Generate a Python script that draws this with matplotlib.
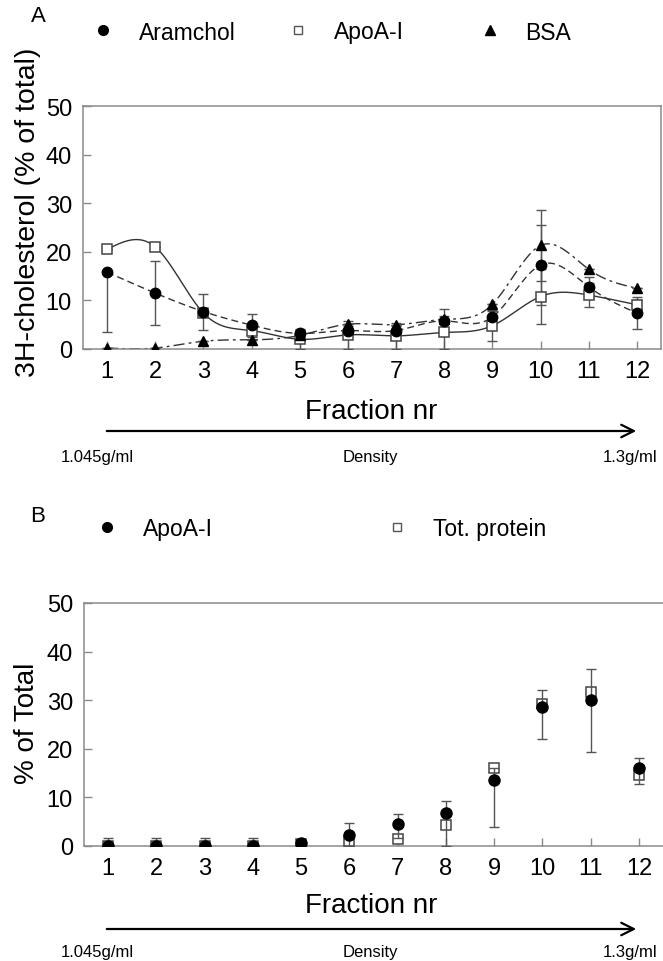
import numpy as np
import matplotlib
matplotlib.use("Agg")
import matplotlib.pyplot as plt
from matplotlib.lines import Line2D
from matplotlib.patches import FancyArrowPatch

plt.rcParams['font.family'] = ['Liberation Sans', 'DejaVu Sans']

# ---------------- data ----------------
fractions = [1, 2, 3, 4, 5, 6, 7, 8, 9, 10, 11, 12]
y_ticks = [0, 10, 20, 30, 40, 50]

# Panel A: 3H-cholesterol (% of total)
aramchol = [15.8, 11.5, 7.7, 4.9, 3.2, 3.8, 3.8, 5.8, 6.6, 17.3, 12.8, 7.4]
aramchol_err_lo = [12.3, 6.6, 3.7, 2.4, 1.0, 1.0, 1.0, 2.5, 1.5, 8.3, 2.0, 3.2]
aramchol_err_hi = [0.0, 6.6, 3.7, 2.4, 1.0, 1.0, 1.0, 2.5, 1.5, 8.3, 2.0, 3.2]
apoa_a = [20.5, 21.0, 7.4, 3.8, 2.0, 2.9, 2.7, 3.4, 4.8, 10.8, 11.1, 9.1]
apoa_a_err = [0.0, 0.0, 0.0, 0.0, 2.0, 2.9, 2.7, 3.4, 3.1, 5.7, 2.4, 1.0]
bsa = [0.2, 0.2, 1.6, 1.9, 2.8, 5.1, 5.0, 6.1, 9.2, 21.3, 16.4, 12.5]
bsa_err = [0.0, 0.0, 0.0, 0.0, 0.0, 0.0, 0.0, 0.0, 0.0, 7.4, 0.0, 0.0]

# Panel B: % of total
apoa_b = [0.1, 0.1, 0.1, 0.1, 0.7, 2.2, 4.6, 6.7, 13.6, 28.7, 30.0, 16.0]
apoa_b_err_lo = [0.0, 0.0, 0.0, 0.0, 0.0, 2.2, 3.0, 6.6, 9.7, 6.6, 10.6, 3.3]
apoa_b_err_hi = [1.5, 1.5, 1.5, 1.5, 0.0, 2.5, 1.9, 2.6, 2.4, 3.5, 6.5, 2.1]
tot_protein = [0.1, 0.1, 0.1, 0.1, 0.5, 1.0, 1.5, 4.4, 16.0, 29.3, 31.6, 14.6]

W, H = 663, 962


def fx(px):
    return px / W


def fy(py):
    return 1 - py / H


def natural_spline(x, y, xs):
    """Natural cubic spline through (x, y), evaluated at xs."""
    x = np.asarray(x, float)
    y = np.asarray(y, float)
    n = len(x)
    h = np.diff(x)
    A = np.zeros((n, n))
    r = np.zeros(n)
    A[0, 0] = A[-1, -1] = 1.0
    for i in range(1, n - 1):
        A[i, i - 1] = h[i - 1]
        A[i, i] = 2 * (h[i - 1] + h[i])
        A[i, i + 1] = h[i]
        r[i] = 6 * ((y[i + 1] - y[i]) / h[i] - (y[i] - y[i - 1]) / h[i - 1])
    M = np.linalg.solve(A, r)
    idx = np.clip(np.searchsorted(x, xs) - 1, 0, n - 2)
    x0, x1 = x[idx], x[idx + 1]
    hh = x1 - x0
    t0 = x1 - xs
    t1 = xs - x0
    return (M[idx] * t0 ** 3 / (6 * hh) + M[idx + 1] * t1 ** 3 / (6 * hh)
            + (y[idx] / hh - M[idx] * hh / 6) * t0
            + (y[idx + 1] / hh - M[idx + 1] * hh / 6) * t1)


spine_col = '#8a8a8a'
line_col = '#333333'
err_col = '#555555'
TICK_FS = 17
LABEL_FS = 20
LEG_FS = 16.5


def style_axes(ax):
    ax.set_xlim(0.5, 12.5)
    ax.set_ylim(0, 50)
    ax.set_xticks(fractions)
    ax.set_yticks(y_ticks)
    for s in ax.spines.values():
        s.set_color(spine_col)
        s.set_linewidth(1.1)
    ax.tick_params(direction='in', length=6, width=1.0, color=spine_col,
                   labelsize=TICK_FS)
    ax.tick_params(axis='x', pad=8)
    ax.tick_params(axis='y', pad=8)


def add_legend_item(fig, handle, label, x_marker_px, y_px, fs=LEG_FS):
    hl = 0.8
    anchor = x_marker_px - hl * fs * 100 / 72 / 2
    fig.legend([handle], [label], loc='center left',
               bbox_to_anchor=(fx(anchor), fy(y_px)),
               bbox_transform=fig.transFigure, frameon=False,
               borderpad=0, borderaxespad=0, handlelength=hl,
               handletextpad=1.15, fontsize=fs)


def density_axis(fig, y_frac_label, y_arrow, y_text):
    fig.text(fx(371), fy(y_frac_label), 'Fraction nr', ha='center',
             va='center', fontsize=LABEL_FS)
    fig.add_artist(FancyArrowPatch(
        (fx(104), fy(y_arrow)), (fx(639), fy(y_arrow)),
        transform=fig.transFigure,
        arrowstyle='->,head_length=9,head_width=4.5',
        mutation_scale=1, lw=1.6, color='black'))
    fig.text(fx(97), fy(y_text), '1.045g/ml', ha='center', va='center',
             fontsize=12)
    fig.text(fx(370), fy(y_text), 'Density', ha='center', va='center',
             fontsize=12)
    fig.text(fx(630), fy(y_text), '1.3g/ml', ha='center', va='center',
             fontsize=12)


fig = plt.figure(figsize=(W / 100, H / 100), dpi=100)
fig.patch.set_facecolor('white')

# ---------------- panel A ----------------
axA = fig.add_axes([fx(83), fy(350), fx(661) - fx(83), fy(107) - fy(350)])
xs = np.linspace(1, 12, 400)
axA.plot(xs, natural_spline(fractions, apoa_a, xs), color=line_col, lw=1.0,
         ls='-', zorder=2)
axA.plot(xs, natural_spline(fractions, aramchol, xs), color=line_col, lw=1.0,
         ls=(0, (5, 3)), zorder=2)
axA.plot(xs, natural_spline(fractions, bsa, xs), color=line_col, lw=1.0,
         ls=(0, (8, 3, 2, 3)), zorder=2)

eb_kw = dict(fmt='none', ecolor=err_col, elinewidth=1, capsize=3.6,
             capthick=1, zorder=3)
axA.errorbar(fractions, apoa_a, yerr=apoa_a_err, **eb_kw)
axA.errorbar(fractions, aramchol, yerr=[aramchol_err_lo, aramchol_err_hi],
             **eb_kw)
axA.errorbar(fractions, bsa, yerr=bsa_err, **eb_kw)

axA.plot(fractions, apoa_a, ls='none', marker='s', ms=7, mfc='white',
         mec='#444444', mew=1.1, zorder=4)
axA.plot(fractions, aramchol, ls='none', marker='o', ms=7.5, color='black',
         zorder=5)
axA.plot(fractions, bsa, ls='none', marker='^', ms=7.5, color='black',
         zorder=6)
style_axes(axA)

fig.text(fx(38), fy(17), 'A', ha='center', va='center', fontsize=16)
h_circ = Line2D([], [], ls='none', marker='o', ms=7, color='black')
h_sq = Line2D([], [], ls='none', marker='s', ms=5.5, mfc='white',
              mec='#555555', mew=1)
h_tri = Line2D([], [], ls='none', marker='^', ms=6.5, color='black')
add_legend_item(fig, h_circ, 'Aramchol', 103, 33)
add_legend_item(fig, h_sq, 'ApoA-I', 298, 33)
add_legend_item(fig, h_tri, 'BSA', 490, 33)

fig.text(fx(28), fy(212), '3H-cholesterol (% of total)', rotation=90,
         ha='center', va='center', fontsize=20.5)
density_axis(fig, 412, 432, 458)

# ---------------- panel B ----------------
axB = fig.add_axes([fx(84), fy(847), fx(663) - fx(84), fy(604) - fy(847)])
axB.plot(fractions, tot_protein, ls='none', marker='s', ms=7.5, mfc='white',
         mec='#444444', mew=1.1, zorder=3)
axB.errorbar(fractions, apoa_b, yerr=[apoa_b_err_lo, apoa_b_err_hi], **eb_kw)
axB.plot(fractions, apoa_b, ls='none', marker='o', ms=8, color='black',
         zorder=5)
style_axes(axB)
axB.spines['right'].set_visible(False)

fig.text(fx(38), fy(516), 'B', ha='center', va='center', fontsize=16)
add_legend_item(fig, h_circ, 'ApoA-I', 107, 530)
add_legend_item(fig, h_sq, 'Tot. protein', 397, 530)

fig.text(fx(27), fy(723), '% of Total', rotation=90, ha='center',
         va='center', fontsize=20)
density_axis(fig, 906, 930, 953)

fig.savefig('out.png', dpi=100, facecolor='white')
